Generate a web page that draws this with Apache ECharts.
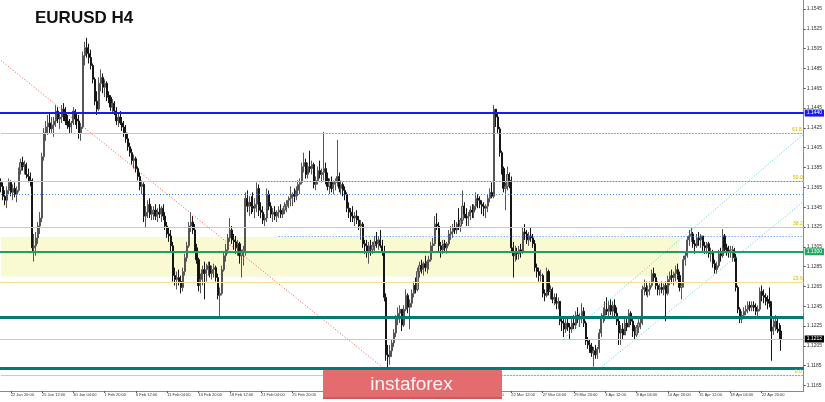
<!DOCTYPE html>
<html><head><meta charset="utf-8">
<script src="https://cdn.jsdelivr.net/npm/echarts@6/dist/echarts.min.js"></script>
<style>html,body{margin:0;padding:0;background:#fff}#c{width:825px;height:402px}</style>
</head><body><div id="c"></div>
<script>
// ---------- DATA (EURUSD H4) ----------
const firstOpen = 1.1370;
const highs = [
 1.1374,1.1370,1.1362,1.1366,1.1374,1.1372,1.1368,1.1370,1.1366,1.1385,
 1.1394,1.1396,1.1392,1.1390,1.1384,1.1380,1.1374,1.1318,1.1320,1.1330,
 1.1340,1.1400,1.1425,1.1432,1.1438,1.1440,1.1436,
 1.1436,1.1448,1.1446,1.1440,1.1448,1.1450,1.1446,1.1438,1.1434,1.1432,
 1.1446,1.1444,1.1440,1.1438,1.1430,1.1502,1.1512,1.1516,1.1510,1.1504,
 1.1490,1.1476,1.1462,1.1476,1.1484,1.1480,1.1474,1.1472,1.1462,1.1458,
 1.1454,1.1452,1.1446,1.1440,1.1442,1.1436,1.1432,1.1428,1.1420,1.1410,
 1.1404,1.1398,1.1396,1.1386,1.1380,1.1372,1.1370,1.1346,1.1352,1.1354,1.1346,
 1.1346,1.1348,1.1344,1.1348,1.1346,1.1348,1.1340,1.1330,1.1324,1.1322,
 1.1310,1.1284,1.1280,1.1282,1.1276,1.1284,1.1298,1.1310,1.1330,1.1340,
 1.1336,1.1328,1.1308,1.1294,1.1278,1.1286,1.1290,1.1288,1.1290,1.1290,
 1.1286,1.1288,1.1286,1.1278,1.1264,1.1286,1.1300,1.1308,1.1318,1.1334,
 1.1326,1.1318,1.1316,1.1312,1.1310,1.1302,1.1306,1.1360,1.1362,1.1356,1.1356,
 1.1360,1.1354,1.1370,1.1368,1.1350,1.1346,1.1338,1.1364,1.1362,1.1350,
 1.1344,1.1346,1.1342,1.1346,1.1348,1.1344,1.1350,1.1352,1.1356,1.1366,
 1.1360,1.1364,1.1366,1.1372,1.1374,1.1390,1.1400,1.1394,1.1390,1.1402,
 1.1392,1.1390,1.1376,1.1386,1.1392,1.1384,1.1421,1.1390,1.1380,1.1374,
 1.1376,1.1372,1.1374,1.1413,1.1380,1.1372,1.1370,1.1366,1.1360,1.1350,1.1344,
 1.1346,1.1340,1.1342,1.1336,1.1332,1.1330,1.1312,1.1312,1.1310,1.1312,
 1.1310,1.1316,1.1320,1.1316,1.1322,1.1312,1.1306,1.1258,1.1206,1.1206,
 1.1212,1.1222,1.1236,1.1244,1.1246,1.1240,1.1246,1.1262,1.1258,1.1252,
 1.1262,1.1270,1.1274,1.1284,1.1290,1.1292,1.1290,1.1296,1.1292,1.1296,
 1.1310,1.1314,1.1336,1.1339,1.1330,1.1310,1.1312,1.1312,1.1310,1.1322,1.1326,
 1.1328,1.1332,1.1330,1.1344,1.1334,1.1362,1.1350,1.1344,1.1340,1.1346,
 1.1348,1.1348,1.1360,1.1358,1.1356,1.1352,1.1350,1.1348,1.1358,1.1364,
 1.1370,1.1448,1.1444,1.1440,1.1426,1.1402,1.1386,1.1370,1.1386,1.1380,
 1.1376,1.1310,1.1306,1.1304,1.1306,1.1308,1.1324,1.1328,1.1322,1.1320,
 1.1324,1.1318,1.1312,1.1288,1.1284,1.1282,
 1.1278,1.1262,1.1284,1.1282,1.1266,1.1264,1.1258,1.1258,1.1254,1.1250,
 1.1234,1.1232,1.1232,1.1234,1.1228,1.1232,1.1236,1.1240,1.1244,1.1238,
 1.1248,1.1244,1.1230,1.1214,1.1212,1.1208,1.1204,1.1206,1.1204,1.1222,
 1.1238,1.1244,1.1250,1.1254,1.1250,1.1252,1.1250,1.1252,1.1244,1.1234,
 1.1226,1.1228,1.1232,1.1234,1.1242,1.1240,1.1232,1.1226,1.1226,1.1232,1.1234,
 1.1266,1.1272,1.1270,1.1266,1.1270,1.1282,1.1284,1.1278,1.1270,1.1268,
 1.1270,1.1268,1.1270,1.1276,1.1280,1.1282,1.1280,1.1286,1.1288,1.1280,
 1.1268,1.1296,1.1300,1.1316,1.1322,1.1324,1.1320,1.1312,1.1318,1.1320,
 1.1318,1.1316,1.1310,1.1310,1.1310,1.1304,1.1302,1.1292,1.1290,1.1302,
 1.1304,1.1323,1.1318,1.1308,1.1306,1.1306,
 1.1306,1.1304,1.1298,1.1266,1.1244,1.1240,1.1244,1.1246,1.1250,1.1250,
 1.1250,1.1250,1.1248,1.1246,1.1264,1.1266,1.1262,1.1258,1.1256,1.1264,
 1.1250,1.1232,1.1236,1.1232,1.1228,1.1226
];
const lows = [
 1.1360,1.1352,1.1347,1.1344,1.1358,1.1356,1.1352,1.1355,1.1350,1.1360,
 1.1378,1.1382,1.1378,1.1374,1.1370,1.1366,1.1300,1.1290,1.1296,1.1308,
 1.1318,1.1330,1.1392,1.1412,1.1418,1.1420,1.1420,
 1.1416,1.1426,1.1430,1.1424,1.1430,1.1432,1.1428,1.1424,1.1420,1.1420,
 1.1428,1.1428,1.1424,1.1414,1.1412,1.1424,1.1488,1.1496,1.1490,1.1484,
 1.1470,1.1448,1.1438,1.1442,1.1462,1.1460,1.1456,1.1452,1.1450,1.1442,
 1.1440,1.1438,1.1428,1.1426,1.1428,1.1422,1.1416,1.1410,1.1402,1.1396,
 1.1388,1.1384,1.1380,1.1372,1.1362,1.1358,1.1330,1.1324,1.1334,1.1334,1.1332,
 1.1332,1.1332,1.1330,1.1334,1.1330,1.1332,1.1322,1.1314,1.1310,1.1300,
 1.1270,1.1266,1.1262,1.1266,1.1258,1.1260,1.1276,1.1290,1.1304,1.1320,
 1.1318,1.1300,1.1288,1.1260,1.1258,1.1266,1.1252,1.1270,1.1276,1.1274,
 1.1272,1.1274,1.1270,1.1252,1.1234,1.1256,1.1280,1.1290,1.1298,1.1310,
 1.1308,1.1302,1.1298,1.1296,1.1288,1.1274,1.1286,1.1296,1.1340,1.1336,1.1338,
 1.1340,1.1334,1.1340,1.1336,1.1334,1.1328,1.1326,1.1330,1.1342,1.1334,
 1.1330,1.1332,1.1330,1.1334,1.1334,1.1334,1.1338,1.1340,1.1344,1.1346,
 1.1346,1.1350,1.1352,1.1356,1.1358,1.1368,1.1380,1.1374,1.1374,1.1380,
 1.1378,1.1364,1.1362,1.1368,1.1374,1.1370,1.1372,1.1368,1.1362,1.1358,
 1.1360,1.1358,1.1362,1.1366,1.1360,1.1358,1.1356,1.1352,1.1340,1.1334,1.1330,
 1.1330,1.1326,1.1328,1.1322,1.1312,1.1304,1.1298,1.1294,1.1288,1.1296,
 1.1298,1.1300,1.1304,1.1302,1.1304,1.1296,1.1250,1.1190,1.1182,1.1186,
 1.1194,1.1204,1.1214,1.1226,1.1228,1.1220,1.1224,1.1240,1.1238,1.1222,
 1.1244,1.1254,1.1258,1.1260,1.1274,1.1278,1.1276,1.1280,1.1278,1.1282,
 1.1290,1.1300,1.1306,1.1322,1.1300,1.1294,1.1298,1.1300,1.1298,1.1306,1.1312,
 1.1314,1.1318,1.1318,1.1322,1.1320,1.1328,1.1334,1.1326,1.1326,1.1332,
 1.1334,1.1334,1.1342,1.1344,1.1344,1.1338,1.1336,1.1334,1.1340,1.1350,
 1.1354,1.1354,1.1426,1.1420,1.1396,1.1378,1.1360,1.1342,1.1362,1.1364,
 1.1300,1.1274,1.1290,1.1292,1.1292,1.1294,1.1298,1.1312,1.1308,1.1306,
 1.1310,1.1304,1.1280,1.1274,1.1270,1.1270,
 1.1254,1.1250,1.1254,1.1256,1.1252,1.1248,1.1246,1.1242,1.1242,1.1226,
 1.1220,1.1214,1.1218,1.1220,1.1212,1.1218,1.1222,1.1222,1.1228,1.1224,
 1.1228,1.1224,1.1206,1.1202,1.1198,1.1194,1.1184,1.1192,1.1192,1.1198,
 1.1214,1.1228,1.1230,1.1236,1.1234,1.1236,1.1234,1.1234,1.1226,1.1206,
 1.1206,1.1212,1.1216,1.1220,1.1224,1.1226,1.1214,1.1212,1.1214,1.1218,1.1222,
 1.1226,1.1256,1.1256,1.1254,1.1256,1.1264,1.1270,1.1262,1.1256,1.1256,
 1.1258,1.1256,1.1230,1.1256,1.1266,1.1268,1.1266,1.1270,1.1272,1.1260,
 1.1252,1.1264,1.1286,1.1294,1.1306,1.1310,1.1304,1.1298,1.1304,1.1306,
 1.1304,1.1300,1.1298,1.1298,1.1294,1.1290,1.1284,1.1278,1.1278,1.1284,
 1.1290,1.1294,1.1300,1.1296,1.1294,1.1294,
 1.1290,1.1290,1.1260,1.1238,1.1228,1.1228,1.1232,1.1236,1.1238,1.1240,
 1.1240,1.1240,1.1236,1.1234,1.1240,1.1250,1.1248,1.1246,1.1242,1.1244,
 1.1190,1.1216,1.1220,1.1218,1.1212,1.1200
];
const closes = [
 1.1366,1.1356,1.1352,1.1362,1.1370,1.1360,1.1364,1.1358,1.1362,1.1382,
 1.1390,1.1386,1.1388,1.1378,1.1376,1.1372,1.1304,1.1306,1.1314,1.1326,
 1.1334,1.1396,1.1420,1.1426,1.1430,1.1424,1.1428,
 1.1432,1.1442,1.1434,1.1436,1.1444,1.1440,1.1432,1.1428,1.1426,1.1430,
 1.1442,1.1434,1.1432,1.1420,1.1426,1.1498,1.1506,1.1500,1.1496,1.1488,
 1.1474,1.1452,1.1444,1.1470,1.1476,1.1466,1.1470,1.1458,1.1456,1.1446,
 1.1450,1.1442,1.1432,1.1436,1.1430,1.1426,1.1420,1.1414,1.1406,1.1400,
 1.1392,1.1394,1.1384,1.1376,1.1366,1.1368,1.1336,1.1340,1.1348,1.1338,1.1340,
 1.1342,1.1336,1.1340,1.1338,1.1344,1.1336,1.1326,1.1318,1.1316,1.1306,
 1.1276,1.1272,1.1274,1.1270,1.1264,1.1280,1.1294,1.1306,1.1326,1.1330,
 1.1322,1.1304,1.1292,1.1266,1.1272,1.1282,1.1278,1.1282,1.1286,1.1278,
 1.1282,1.1284,1.1274,1.1256,1.1258,1.1282,1.1296,1.1302,1.1314,1.1322,
 1.1312,1.1310,1.1304,1.1308,1.1296,1.1300,1.1302,1.1354,1.1346,1.1350,1.1346,
 1.1344,1.1348,1.1364,1.1342,1.1340,1.1332,1.1334,1.1358,1.1346,1.1338,
 1.1340,1.1336,1.1340,1.1342,1.1338,1.1342,1.1346,1.1348,1.1352,1.1354,
 1.1358,1.1356,1.1362,1.1368,1.1370,1.1386,1.1390,1.1378,1.1386,1.1384,
 1.1388,1.1368,1.1372,1.1382,1.1378,1.1380,1.1384,1.1374,1.1366,1.1370,
 1.1364,1.1368,1.1370,1.1376,1.1364,1.1368,1.1362,1.1358,1.1344,1.1340,1.1336,
 1.1334,1.1336,1.1332,1.1326,1.1328,1.1308,1.1306,1.1300,1.1306,1.1302,
 1.1306,1.1310,1.1308,1.1312,1.1306,1.1300,1.1254,1.1196,1.1194,1.1200,
 1.1208,1.1218,1.1232,1.1238,1.1242,1.1226,1.1242,1.1256,1.1244,1.1248,
 1.1258,1.1266,1.1262,1.1280,1.1286,1.1282,1.1288,1.1284,1.1290,1.1292,
 1.1306,1.1308,1.1328,1.1326,1.1306,1.1302,1.1308,1.1304,1.1308,1.1318,1.1320,
 1.1324,1.1322,1.1328,1.1326,1.1332,1.1346,1.1338,1.1334,1.1336,1.1342,
 1.1340,1.1346,1.1354,1.1352,1.1348,1.1346,1.1344,1.1346,1.1354,1.1360,
 1.1356,1.1444,1.1436,1.1424,1.1400,1.1384,1.1364,1.1366,1.1378,1.1372,
 1.1304,1.1296,1.1300,1.1298,1.1302,1.1300,1.1320,1.1318,1.1312,1.1316,
 1.1314,1.1308,1.1284,1.1280,1.1276,1.1276,
 1.1258,1.1256,1.1280,1.1260,1.1262,1.1252,1.1254,1.1248,1.1250,1.1230,
 1.1228,1.1222,1.1228,1.1224,1.1222,1.1228,1.1226,1.1236,1.1232,1.1234,
 1.1240,1.1228,1.1210,1.1206,1.1204,1.1198,1.1200,1.1196,1.1202,1.1218,
 1.1234,1.1236,1.1242,1.1240,1.1246,1.1240,1.1246,1.1238,1.1230,1.1218,
 1.1222,1.1216,1.1228,1.1224,1.1238,1.1230,1.1220,1.1216,1.1224,1.1228,1.1228,
 1.1262,1.1264,1.1260,1.1262,1.1266,1.1278,1.1274,1.1266,1.1262,1.1264,
 1.1262,1.1266,1.1258,1.1272,1.1276,1.1274,1.1278,1.1282,1.1276,1.1264,
 1.1266,1.1292,1.1296,1.1312,1.1316,1.1318,1.1308,1.1306,1.1314,1.1312,
 1.1316,1.1306,1.1304,1.1308,1.1298,1.1300,1.1288,1.1282,1.1286,1.1298,
 1.1296,1.1316,1.1304,1.1302,1.1300,1.1302,
 1.1302,1.1294,1.1264,1.1242,1.1232,1.1236,1.1240,1.1242,1.1246,1.1244,
 1.1246,1.1244,1.1240,1.1242,1.1260,1.1256,1.1254,1.1252,1.1250,1.1248,
 1.1220,1.1224,1.1230,1.1222,1.1220,1.1212
];
// time axis: first bar and number of empty (future) slots on the right
const firstBarUTC = [2019, 0, 22, 0];
const emptySlots = 11;
const firstLabelIndex = 5;   // "22 Jan 20:00"
const labelEvery = 16;
// right price axis tick labels
const yTicks = [1.1165,1.1185,1.1205,1.1225,1.1245,1.1265,1.1285,1.1305,1.1325,1.1345,
                1.1365,1.1385,1.1405,1.1425,1.1445,1.1465,1.1485,1.1505,1.1525,1.1545];
const yRange = [1.11595, 1.15541];
// drawn levels
const blueLevel = 1.1440;
const greenLevel = 1.1300;
const tealLevels = [1.1234, 1.1182];
const lastPrice = 1.1212;
const fibLevels = [1.11752, 1.12690, 1.13255, 1.13709, 1.14194];
const fibNames = ['0.0', '23.6', '38.2', '50.0', '61.8'];
const fibSolidEnd = [165, 410, 410, 410, 166];
const blueDotLevels = [1.13578, 1.13154, 1.13709];
const blueDotStart = [0, 142, 132];
const zoneBand = [1.1275, 1.1315];
const zoneEnd = 347;
const redTrend = [[0, 1.1493], [196, 1.1182]];
const channelUpper = [[287, 1.1211], [410, 1.1418]];
const channelLower = [[306, 1.1182], [410, 1.1350]];

// ---------- BUILD ----------
const MONTHS = ['Jan','Feb','Mar','Apr','May','Jun','Jul','Aug','Sep','Oct','Nov','Dec'];
const categories = [];
let t = Date.UTC(...firstBarUTC);
while (categories.length < closes.length + emptySlots) {
  const d = new Date(t), wd = d.getUTCDay();
  if (wd !== 0 && wd !== 6) categories.push(d.getUTCDate() + ' ' + MONTHS[d.getUTCMonth()] + ' ' + String(d.getUTCHours()).padStart(2, '0') + ':00');
  t += 4 * 3600e3;
}
const ohlc = closes.map((c, i) => {
  const o = i === 0 ? firstOpen : closes[i - 1];
  return [o, c, Math.min(lows[i], o, c), Math.max(highs[i], o, c)];
});
const lastIdx = categories.length - 1;
const showLabel = (i) => i >= firstLabelIndex && i < closes.length && (i - firstLabelIndex) % labelEvery === 0;

const YEL = '#f8d21c', YEL_PALE = '#fbe08a', BLUE_DOT = '#3f86ff', FIB_TXT = '#d8b000';
const ml = [];
const full = (v, ls, label) => ml.push({ yAxis: v, lineStyle: ls, label: label || { show: false } });
const seg = (v, i0, i1, ls, label) => ml.push([{ coord: [i0, v], lineStyle: ls, label: label || { show: false } }, { coord: [i1, v] }]);
const fibLabel = (txt) => ({ show: true, position: 'insideEndTop', formatter: txt, color: FIB_TXT, fontSize: 5, distance: 1 });
const boxLabel = (txt, bg) => ({ show: true, position: 'end', formatter: txt, color: '#fff', backgroundColor: bg, fontSize: 5, padding: [1, 2, 1, 2], distance: 1 });

// current price line (beneath)
full(lastPrice, { color: '#c8c8c8', width: 1, type: 'solid' }, boxLabel(lastPrice.toFixed(4), '#000'));
// fibonacci lines
fibLevels.forEach((v, k) => {
  const solidStyle = { color: k === 1 ? YEL_PALE : YEL, width: 1, type: 'solid' };
  if (fibSolidEnd[k] >= lastIdx) {
    full(v, solidStyle, fibLabel(fibNames[k]));
  } else {
    seg(v, 0, fibSolidEnd[k], solidStyle);
    seg(v, fibSolidEnd[k], lastIdx, { color: YEL, width: 1, type: [2, 1] }, fibLabel(fibNames[k]));
    seg(v, fibSolidEnd[k], lastIdx, { color: BLUE_DOT, width: 1, type: [1, 2], dashOffset: 2 });
  }
});
// blue dotted levels
blueDotLevels.forEach((v, k) => seg(v, blueDotStart[k], lastIdx, { color: BLUE_DOT, width: 1, type: [1, 2] }));
// key levels
full(greenLevel, { color: '#1fa35c', width: 2, type: 'solid' }, boxLabel(greenLevel.toFixed(4), '#22a862'));
tealLevels.forEach(v => full(v, { color: '#007b72', width: 3, type: 'solid' }));
full(blueLevel, { color: '#1a1af0', width: 2, type: 'solid' }, boxLabel(blueLevel.toFixed(4), '#1a1af0'));

const chart = echarts.init(document.getElementById('c'), null, { renderer: 'canvas', width: 825, height: 402 });
chart.setOption({
  animation: false,
  backgroundColor: '#ffffff',
  textStyle: { fontFamily: 'Liberation Sans, Arial, sans-serif' },
  grid: { left: 0, right: 21, top: 0, bottom: 11, containLabel: false },
  xAxis: {
    type: 'category', data: categories, boundaryGap: true,
    axisLine: { show: true, lineStyle: { color: '#8a8a8a', width: 1 } },
    axisTick: { show: true, alignWithLabel: true, interval: showLabel, length: 2, lineStyle: { color: '#555' } },
    axisLabel: { interval: showLabel, align: 'left', fontSize: 4, color: '#333', margin: 2 },
    splitLine: { show: false }
  },
  yAxis: {
    type: 'value', position: 'right', min: yRange[0], max: yRange[1], scale: true,
    axisLine: { show: true, lineStyle: { color: '#8a8a8a', width: 1 } },
    axisTick: { show: true, length: 2, customValues: yTicks, lineStyle: { color: '#555' } },
    axisLabel: { customValues: yTicks, formatter: v => v.toFixed(4), fontSize: 5, color: '#333', margin: 3 },
    splitLine: { show: false }
  },
  series: [
    {
      name: 'trend', type: 'line', data: redTrend, z: 1, symbol: 'none', silent: true,
      lineStyle: { color: '#ff4a4a', width: 1, type: [1, 2] },
      markArea: {
        silent: true, itemStyle: { color: '#fafad2' },
        data: [[{ coord: [0, zoneBand[1]] }, { coord: [zoneEnd, zoneBand[0]] }]]
      }
    },
    {
      name: 'EURUSD', type: 'candlestick', data: ohlc, z: 2, barWidth: 1.6,
      itemStyle: { color: '#a9a9a9', color0: '#151515', borderColor: '#555555', borderColor0: '#151515', borderWidth: 1 }
    },
    {
      name: 'channelUpper', type: 'line', data: channelUpper, z: 4, symbol: 'none', silent: true,
      lineStyle: { color: '#48d1cc', width: 1, type: [1, 2] },
      markLine: { silent: true, symbol: ['none', 'none'], animation: false, precision: 4, data: ml }
    },
    {
      name: 'channelLower', type: 'line', data: channelLower, z: 4, symbol: 'none', silent: true,
      lineStyle: { color: '#48d1cc', width: 1, type: [1, 2] }
    }
  ],
  graphic: [
    { type: 'text', left: 35, top: 10, z: 100, style: { text: 'EURUSD H4', font: 'bold 17px "Liberation Sans", Arial, sans-serif', fill: '#111' } },
    { type: 'rect', z: 100, shape: { x: 323, y: 370, width: 179, height: 29, r: 1 }, style: { fill: '#e46b6e' } },
    { type: 'rect', z: 100, shape: { x: 323, y: 397, width: 179, height: 2 }, style: { fill: '#c95a5d' } },
    { type: 'text', z: 101, x: 411.5, y: 385, style: { text: 'instaforex', font: '19px "Liberation Sans", Arial, sans-serif', fill: '#fbf3f3', align: 'center', verticalAlign: 'middle' } }
  ]
});
</script>
</body></html>
